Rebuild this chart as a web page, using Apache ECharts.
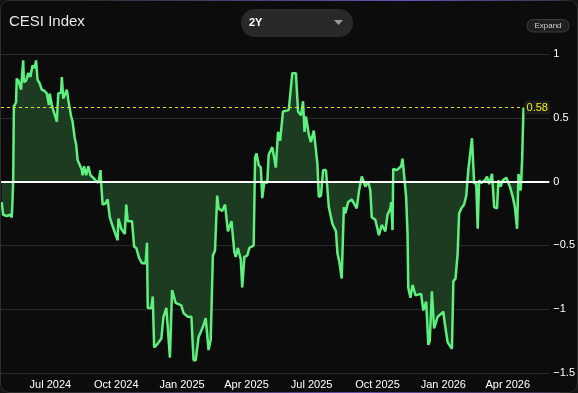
<!DOCTYPE html>
<html>
<head>
<meta charset="utf-8">
<script src="https://cdn.jsdelivr.net/npm/echarts@6/dist/echarts.min.js"></script>
<style>
  html, body { margin: 0; padding: 0; background: #151515; }
  #card { position: absolute; left: 0; top: 0; width: 578px; height: 393px; background: #0c0c0c; border-radius: 9px; }
  #chart { position: absolute; left: 0; top: 0; width: 578px; height: 393px; }
  #frame { position: absolute; left: 0; top: 0; width: 576px; height: 391px; border: 1px solid #2c2c2c; border-radius: 9px; pointer-events: none; }
  #topline { position: absolute; left: 60px; top: 0; width: 500px; height: 1px; background: linear-gradient(90deg, rgba(120,90,200,0), rgba(120,90,220,0.8) 70%, rgba(120,90,200,0.2)); pointer-events: none; }
  #botline { position: absolute; left: 60px; top: 392px; width: 500px; height: 1px; background: linear-gradient(90deg, rgba(120,90,200,0), rgba(120,90,220,0.7) 60%, rgba(120,90,200,0.2)); pointer-events: none; }
</style>
</head>
<body>
<div id="card"></div>
<div id="chart"></div>
<div id="frame"></div>
<div id="topline"></div>
<div id="botline"></div>
<script>
// ---- Data ----
const dates = [
 '2024-04-24','2024-04-26','2024-05-01','2024-05-06','2024-05-08','2024-05-09','2024-05-10','2024-05-11','2024-05-14','2024-05-15',
 '2024-05-16','2024-05-17','2024-05-21','2024-05-24','2024-05-25','2024-05-28','2024-05-31','2024-06-03','2024-06-06','2024-06-09',
 '2024-06-11','2024-06-13','2024-06-16','2024-06-19','2024-06-23','2024-06-26','2024-06-29','2024-06-30','2024-07-03','2024-07-05',
 '2024-07-10','2024-07-12','2024-07-16','2024-07-17','2024-07-19','2024-07-24','2024-07-26','2024-07-30','2024-08-01','2024-08-04',
 '2024-08-06','2024-08-08','2024-08-11','2024-08-14','2024-08-15','2024-08-17','2024-08-20','2024-08-23','2024-08-26','2024-08-30',
 '2024-09-02','2024-09-06','2024-09-09','2024-09-10','2024-09-12','2024-09-16','2024-09-19','2024-09-22','2024-09-26','2024-10-03',
 '2024-10-04','2024-10-08','2024-10-13','2024-10-15','2024-10-17','2024-10-23','2024-10-26','2024-10-29','2024-11-02','2024-11-06',
 '2024-11-11','2024-11-13','2024-11-14','2024-11-19','2024-11-21','2024-11-23','2024-11-28','2024-12-03','2024-12-06','2024-12-10',
 '2024-12-15','2024-12-18','2024-12-23','2024-12-31','2025-01-03','2025-01-09','2025-01-14','2025-01-17','2025-01-20','2025-01-24',
 '2025-01-30','2025-02-03','2025-02-07','2025-02-10','2025-02-13','2025-02-16','2025-02-19','2025-02-21','2025-02-26','2025-03-02',
 '2025-03-06','2025-03-11','2025-03-15','2025-03-17','2025-03-20','2025-03-24','2025-03-26','2025-03-29','2025-04-02','2025-04-05',
 '2025-04-11','2025-04-13','2025-04-15','2025-04-18','2025-04-21','2025-04-23','2025-04-26','2025-04-30','2025-05-02','2025-05-07',
 '2025-05-12','2025-05-15','2025-05-18','2025-05-22','2025-05-30','2025-06-04','2025-06-09','2025-06-12','2025-06-16','2025-06-19',
 '2025-06-21','2025-06-23','2025-06-27','2025-06-30','2025-07-04','2025-07-09','2025-07-11','2025-07-14','2025-07-17','2025-07-21',
 '2025-07-25','2025-07-30','2025-08-04','2025-08-06','2025-08-09','2025-08-12','2025-08-15','2025-08-17','2025-08-21','2025-08-26',
 '2025-09-02','2025-09-05','2025-09-09','2025-09-14','2025-09-18','2025-09-21','2025-09-23','2025-09-28','2025-10-03','2025-10-07',
 '2025-10-12','2025-10-15','2025-10-19','2025-10-20','2025-10-22','2025-10-23','2025-10-28','2025-11-03','2025-11-05','2025-11-08',
 '2025-11-10','2025-11-12','2025-11-13','2025-11-16','2025-11-19','2025-11-23','2025-12-01','2025-12-04','2025-12-08','2025-12-11',
 '2025-12-13','2025-12-16','2025-12-19','2025-12-24','2026-01-01','2026-01-03','2026-01-07','2026-01-13','2026-01-15','2026-01-18',
 '2026-01-21','2026-01-23','2026-01-26','2026-01-30','2026-02-02','2026-02-05','2026-02-10','2026-02-13','2026-02-16','2026-02-18',
 '2026-02-20','2026-02-23','2026-02-28','2026-03-03','2026-03-06','2026-03-10','2026-03-13','2026-03-17','2026-03-19','2026-03-22',
 '2026-03-25','2026-03-30','2026-04-04','2026-04-08','2026-04-11','2026-04-14','2026-04-16','2026-04-19','2026-04-21','2026-04-23'
];
const cesiValues = [
 -0.16,-0.26,-0.27,-0.26,-0.28,-0.16,0.00,0.59,0.62,0.81,
 0.77,0.80,0.72,0.95,0.78,0.79,0.85,0.82,0.91,0.89,
 0.95,0.80,0.77,0.72,0.71,0.69,0.60,0.69,0.60,0.56,
 0.47,0.69,0.70,0.82,0.65,0.72,0.64,0.51,0.47,0.34,
 0.29,0.17,0.13,0.09,0.05,0.12,0.05,0.12,0.05,0.03,
 0.01,-0.01,0.09,-0.02,-0.18,-0.17,-0.14,-0.28,-0.35,-0.46,
 -0.29,-0.37,-0.41,-0.18,-0.31,-0.31,-0.51,-0.52,-0.60,-0.64,
 -0.64,-0.48,-0.99,-0.99,-0.90,-1.30,-1.27,-1.23,-1.06,-0.99,
 -1.38,-0.85,-0.95,-0.97,-1.03,-1.06,-1.06,-1.40,-1.40,-1.22,
 -1.14,-1.07,-1.32,-1.24,-0.58,-0.54,-0.11,-0.21,-0.23,-0.18,
 -0.39,-0.31,-0.55,-0.59,-0.52,-0.61,-0.83,-0.59,-0.58,-0.52,
 -0.50,0.19,0.22,0.13,0.11,-0.13,0.00,-0.01,0.21,0.27,
 0.11,0.39,0.32,0.55,0.56,0.85,0.85,0.55,0.52,0.63,
 0.39,0.51,0.37,0.31,0.40,0.14,-0.12,-0.11,0.09,0.09,
 -0.20,-0.33,-0.39,-0.56,-0.64,-0.76,-0.20,-0.25,-0.16,-0.14,
 -0.21,-0.08,0.04,-0.04,0.00,-0.07,-0.28,-0.30,-0.42,-0.34,
 -0.39,-0.26,-0.21,-0.16,-0.38,0.10,0.09,0.12,0.18,0.00,
 -0.12,-0.41,-0.83,-0.91,-0.81,-0.89,-0.88,-1.01,-0.94,-1.28,
 -1.25,-0.86,-1.15,-1.06,-1.02,-1.11,-1.26,-1.31,-0.78,-0.76,
 -0.56,-0.25,-0.21,-0.18,-0.11,0.10,0.34,-0.01,-0.02,-0.37,
 0.01,-0.01,0.01,0.04,-0.02,0.06,-0.20,-0.21,0.01,-0.04,
 0.01,0.03,-0.04,-0.12,-0.20,-0.37,0.06,-0.07,0.17,0.58
];
const xTickDates = ['2024-07-01','2024-10-01','2025-01-01','2025-04-01','2025-07-01','2025-10-01','2026-01-01','2026-04-01'];
const xTickLabels = ['Jul 2024','Oct 2024','Jan 2025','Apr 2025','Jul 2025','Oct 2025','Jan 2026','Apr 2026'];
const yTicks = [-1.5, -1, -0.5, 0, 0.5, 1];
const yTickLabels = ['\u22121.5', '\u22121', '\u22120.5', '0', '0.5', '1'];
const xRange = ['2024-04-23', '2026-05-29'];
const latestValue = 0.58;

// ---- Build chart ----
const ts = s => Date.parse(s + 'T00:00:00Z');
const seriesData = dates.map((d, i) => [ts(d), cesiValues[i]]);
const xTickTs = xTickDates.map(ts);
const FONT = '"Liberation Sans", Arial, sans-serif';

const chart = echarts.init(document.getElementById('chart'), null, { renderer: 'canvas' });
chart.setOption({
  backgroundColor: 'transparent',
  animation: false,
  title: {
    text: 'CESI Index', left: 4, top: 9,
    textStyle: { color: '#e8e8e8', fontSize: 15, fontWeight: 'normal', fontFamily: FONT }
  },
  graphic: [
    { type: 'rect', shape: { x: 241, y: 9, width: 112, height: 28, r: 14 }, style: { fill: '#292929' } },
    { type: 'text', x: 249, y: 23, style: { text: '2Y', fill: '#ffffff', font: 'bold 11px ' + FONT, verticalAlign: 'middle' } },
    { type: 'polygon', shape: { points: [[334, 20], [343, 20], [338.5, 25]] }, style: { fill: '#9a9a9a' } },
    { type: 'rect', shape: { x: 527, y: 19.5, width: 42, height: 12.5, r: 6 }, style: { fill: '#1f1f1f', stroke: '#3c3c3c', lineWidth: 1 } },
    { type: 'text', x: 548, y: 26, style: { text: 'Expand', fill: '#cfcfcf', font: '8px ' + FONT, align: 'center', verticalAlign: 'middle' } }
  ],
  grid: { left: 1, right: 26, top: 54, bottom: 20 },
  xAxis: {
    type: 'value',
    min: ts(xRange[0]), max: ts(xRange[1]),
    axisLine: { show: false },
    axisTick: { show: false },
    splitLine: { show: false },
    axisLabel: {
      customValues: xTickTs,
      color: '#ffffff', fontSize: 11, fontFamily: FONT, margin: 6,
      formatter: v => { const i = xTickTs.indexOf(v); return i >= 0 ? xTickLabels[i] : ''; }
    }
  },
  yAxis: {
    type: 'value', position: 'right',
    min: -1.5, max: 1, interval: 0.5,
    axisLine: { show: false },
    axisTick: { show: false },
    splitLine: { lineStyle: { color: '#2a2a2a', width: 1 } },
    axisLabel: {
      color: '#ffffff', fontSize: 11, fontFamily: FONT, margin: 4,
      formatter: v => { const i = yTicks.findIndex(t => Math.abs(t - v) < 1e-9); return i >= 0 ? yTickLabels[i] : ''; }
    }
  },
  series: [{
    type: 'line',
    data: seriesData,
    showSymbol: false,
    symbol: 'none',
    lineStyle: { color: '#5ef07e', width: 2.5 },
    areaStyle: { origin: 0, color: '#1d3b20', opacity: 1 },
    markLine: {
      silent: true,
      symbol: 'none',
      animation: false,
      data: [
        { yAxis: 0, lineStyle: { color: '#ffffff', type: 'solid', width: 2 }, label: { show: false } },
        [
          { coord: [ts(xRange[0]), latestValue], lineStyle: { color: '#e6e600', type: [3, 3], width: 1 } },
          { coord: [ts(dates[dates.length - 1]), latestValue],
            label: { show: true, position: 'end', distance: 1, formatter: latestValue.toFixed(2),
                     color: '#f0f000', fontSize: 11, fontFamily: FONT, backgroundColor: '#1b1b1b', padding: [2, 2, 1, 2] } }
        ]
      ]
    }
  }]
});
</script>
</body>
</html>
